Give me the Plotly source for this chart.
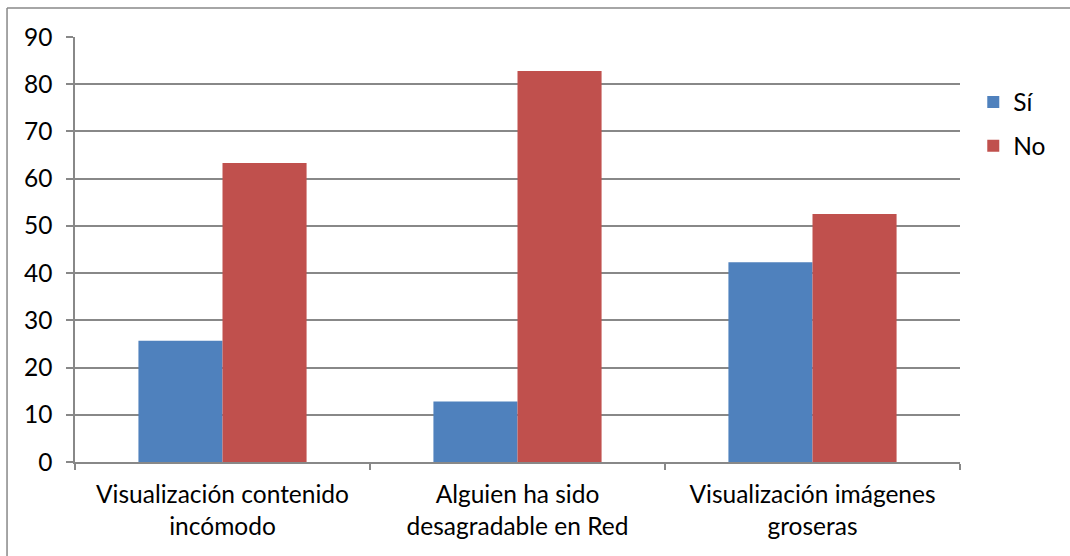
import plotly.graph_objects as go

categories = ["Visualización contenido<br>incómodo",
              "Alguien ha sido<br>desagradable en Red",
              "Visualización imágenes<br>groseras"]
si_values = [25.7, 12.8, 42.3]
no_values = [63.3, 82.8, 52.5]
y_ticks = [0, 10, 20, 30, 40, 50, 60, 70, 80, 90]

FONT = "Lato"
GRID = "#888888"
FS = 24.5

fig = go.Figure()
fig.add_trace(go.Bar(name="Sí", x=categories, y=si_values,
                     marker=dict(color="#4F81BD", line=dict(width=0)),
                     legendgroup="a"))
fig.add_trace(go.Bar(name="No", x=categories, y=no_values,
                     marker=dict(color="#C0504D", line=dict(width=0)),
                     legendgroup="b"))

fig.update_layout(
    width=1070, height=556,
    margin=dict(l=75, r=110, t=37, b=94),
    paper_bgcolor="white", plot_bgcolor="white",
    barmode="group", bargap=0.43, bargroupgap=0,
    font=dict(family=FONT, size=FS, color="#000000"),
    legend=dict(x=1.015, y=0.9, xanchor="left", yanchor="top",
                font=dict(size=FS), tracegroupgap=9,
                bgcolor="rgba(0,0,0,0)", itemwidth=30),
    showlegend=True,
    xaxis=dict(showline=True, linecolor=GRID, linewidth=1.5,
               ticks="outside", tickson="boundaries", ticklen=6,
               tickcolor=GRID, tickwidth=1.5, showgrid=False,
               tickfont=dict(size=FS), ticklabelstandoff=10),
    yaxis=dict(range=[0, 90], tickvals=y_ticks, showline=True,
               linecolor=GRID, linewidth=1.5, ticks="outside", ticklen=7,
               tickcolor=GRID, tickwidth=1.5, showgrid=True,
               gridcolor=GRID, gridwidth=1.5,
               zeroline=False, tickfont=dict(size=FS), ticklabelstandoff=9),
    shapes=[
        dict(type="line", xref="paper", yref="paper",
             x0=-0.0768, x1=1.2, y0=1.068, y1=1.068,
             line=dict(color=GRID, width=1.5)),
        dict(type="line", xref="paper", yref="paper",
             x0=-0.0768, x1=-0.0768, y0=1.068, y1=-0.3,
             line=dict(color=GRID, width=1.5)),
    ],
)

fig.write_html("out.html")
